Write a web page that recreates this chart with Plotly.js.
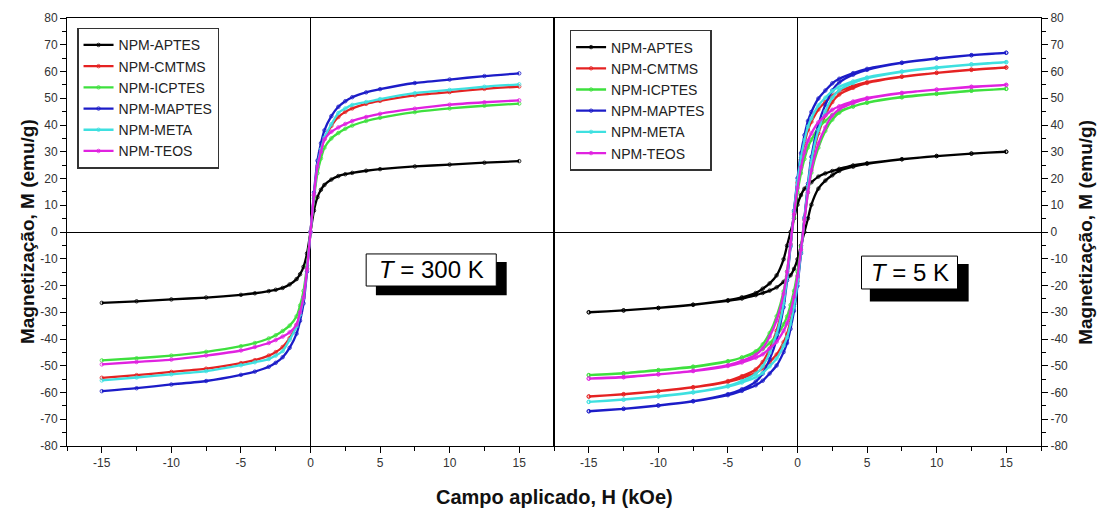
<!DOCTYPE html>
<html>
<head>
<meta charset="utf-8">
<script src="https://cdn.plot.ly/plotly-3.0.1.min.js"></script>
<style>
html,body{margin:0;padding:0;background:#fff;}
#chart{width:1108px;height:520px;}
</style>
</head>
<body>
<div id="chart"></div>
<script>
// ---------- Data ----------
var seriesNames = ["NPM-APTES","NPM-CMTMS","NPM-ICPTES","NPM-MAPTES","NPM-META","NPM-TEOS"];

// T = 300 K : field (kOe)
var H300 = [-15,-12.5,-10,-7.5,-5,-4,-3,-2.5,-2,-1.5,-1,-0.75,-0.5,-0.25,0,0.25,0.5,0.75,1,1.5,2,2.5,3,4,5,7.5,10,12.5,15];
var APTES_300  = [-26.5,-25.9,-25.2,-24.5,-23.5,-22.9,-22.1,-21.6,-20.9,-19.6,-17.6,-15.8,-13.0,-8.0,0,8.0,13.0,15.8,17.6,19.6,20.9,21.6,22.1,22.9,23.5,24.5,25.2,25.9,26.5];
var CMTMS_300  = [-54.5,-53.5,-52.3,-51.1,-49.0,-47.9,-46.2,-44.9,-43.0,-39.7,-34.8,-30.5,-24.5,-13.6,0,13.6,24.5,30.5,34.8,39.7,43.0,44.9,46.2,47.9,49.0,51.1,52.3,53.5,54.4];
var ICPTES_300 = [-48.0,-47.2,-46.2,-44.8,-42.7,-41.5,-39.8,-38.6,-37.0,-35.0,-31.5,-27.5,-22.0,-12.5,0,12.5,22.0,27.5,31.5,35.0,37.0,38.6,39.8,41.5,42.7,44.8,46.2,47.2,48.0];
var MAPTES_300 = [-59.5,-58.4,-57.0,-55.7,-53.4,-52.2,-50.4,-48.9,-46.8,-43.3,-38.0,-33.2,-26.7,-14.8,0,14.8,26.7,33.2,38.0,43.3,46.8,48.9,50.4,52.2,53.4,55.7,57.0,58.3,59.3];
var META_300   = [-55.5,-54.4,-53.2,-52.0,-49.8,-48.7,-47.5,-46.2,-44.5,-40.3,-35.3,-30.9,-24.8,-13.8,0,13.8,24.8,30.9,35.3,40.3,44.5,46.2,47.5,48.6,49.7,51.9,53.1,54.3,55.2];
var TEOS_300   = [-49.5,-48.6,-47.7,-46.2,-44.3,-43.0,-41.5,-40.4,-39.1,-37.5,-34.6,-30.0,-24.5,-14.0,0,14.0,24.5,30.0,34.6,37.5,39.1,40.4,41.5,43.0,44.2,46.1,47.6,48.5,49.2];

// T = 5 K : descending branch (15 -> -15 kOe) and ascending branch (-15 -> 15 kOe)
var H5_down = [15,12.5,10,7.5,5,4,3,2.5,2,1.5,1,0.75,0.5,0.25,0,-0.25,-0.5,-0.75,-1,-1.5,-2,-2.5,-3,-4,-5,-7.5,-10,-12.5,-15];
var H5_up   = [-15,-12.5,-10,-7.5,-5,-4,-3,-2.5,-2,-1.5,-1,-0.75,-0.5,-0.25,0,0.25,0.5,0.75,1,1.5,2,2.5,3,4,5,7.5,10,12.5,15];

var APTES_5_down  = [30.0,29.3,28.4,27.2,25.7,24.9,23.6,22.8,21.9,20.7,18.6,17.4,16.2,13.8,10.2,5.1,0.0,-5.1,-10.2,-16.2,-19.2,-21.2,-22.8,-24.4,-25.5,-27.2,-28.4,-29.3,-30.0];
var APTES_5_up    = [-30.0,-29.3,-28.4,-27.2,-25.7,-24.9,-23.6,-22.8,-21.9,-20.7,-18.6,-17.4,-16.2,-13.8,-10.2,-5.1,0.0,5.1,10.2,16.2,19.2,21.2,22.8,24.4,25.5,27.2,28.4,29.3,30.0];
var CMTMS_5_down  = [61.5,60.7,59.5,58.1,56.0,54.6,52.6,51.0,48.6,45.8,41.2,38.1,33.2,27.1,18.5,7.4,-4.9,-16.6,-25.8,-36.9,-43.7,-48.6,-51.4,-53.9,-55.7,-58.0,-59.5,-60.6,-61.5];
var CMTMS_5_up    = [-61.5,-60.7,-59.5,-58.1,-56.0,-54.6,-52.6,-51.0,-48.6,-45.8,-41.2,-38.1,-33.2,-27.1,-18.5,-7.4,4.9,16.6,25.8,36.9,43.7,48.6,51.4,53.9,55.7,58.0,59.5,60.6,61.5];
var ICPTES_5_down = [53.5,52.8,51.6,50.3,48.3,47.0,45.1,43.8,41.5,38.9,34.5,31.6,27.3,22.0,14.8,5.6,-4.6,-14.7,-22.2,-31.5,-37.8,-42.0,-44.6,-46.9,-48.4,-50.5,-51.7,-52.8,-53.5];
var ICPTES_5_up   = [-53.5,-52.8,-51.6,-50.3,-48.3,-47.0,-45.1,-43.8,-41.5,-38.9,-34.5,-31.6,-27.3,-22.0,-14.8,-5.6,4.6,14.7,22.2,31.5,37.8,42.0,44.6,46.9,48.4,50.5,51.7,52.8,53.5];
var MAPTES_5_down = [67.0,66.1,64.9,63.3,61.0,59.4,57.3,55.6,52.9,49.9,44.9,41.5,36.2,29.5,20.1,8.0,-5.4,-18.1,-28.1,-40.2,-47.6,-52.9,-55.9,-58.8,-60.6,-63.2,-64.8,-66.1,-67.0];
var MAPTES_5_up   = [-67.0,-66.1,-64.9,-63.3,-61.0,-59.4,-57.3,-55.6,-52.9,-49.9,-44.9,-41.5,-36.2,-29.5,-20.1,-8.0,5.4,18.1,28.1,40.2,47.6,52.9,55.9,58.8,60.6,63.2,64.8,66.1,67.0];
var META_5_down   = [63.5,62.7,61.5,60.0,57.8,56.3,54.3,52.7,50.2,47.3,42.5,39.4,34.3,27.9,19.1,7.6,-5.1,-17.1,-26.7,-38.1,-45.1,-50.2,-53.0,-55.7,-57.5,-59.9,-61.4,-62.6,-63.5];
var META_5_up     = [-63.5,-62.7,-61.5,-60.0,-57.8,-56.3,-54.3,-52.7,-50.2,-47.3,-42.5,-39.4,-34.3,-27.9,-19.1,-7.6,5.1,17.1,26.7,38.1,45.1,50.2,53.0,55.7,57.5,59.9,61.4,62.6,63.5];
var TEOS_5_down   = [55.0,54.3,53.2,52.0,50.1,48.8,47.0,45.7,43.5,41.0,36.9,34.1,29.7,24.2,16.5,6.6,-4.4,-14.9,-23.1,-33.0,-39.1,-43.5,-45.9,-48.2,-49.8,-51.9,-53.2,-54.2,-54.8];
var TEOS_5_up     = [-54.8,-54.3,-53.2,-52.0,-50.1,-48.8,-47.0,-45.7,-43.5,-41.0,-36.9,-34.1,-29.7,-24.2,-16.5,-6.6,4.4,14.9,23.1,33.0,39.1,43.5,45.9,48.2,49.8,51.9,53.2,54.2,55.0];

var xTicks = [-15,-10,-5,0,5,10,15];
var yTicks = [-80,-70,-60,-50,-40,-30,-20,-10,0,10,20,30,40,50,60,70,80];

// ---------- Styling ----------
var colors = ["#000000","#e52222","#3ee03e","#1c1cc8","#3ee0e0","#e022e0"];
var data300 = [APTES_300, CMTMS_300, ICPTES_300, MAPTES_300, META_300, TEOS_300];
var down5 = [APTES_5_down, CMTMS_5_down, ICPTES_5_down, MAPTES_5_down, META_5_down, TEOS_5_down];
var up5 = [APTES_5_up, CMTMS_5_up, ICPTES_5_up, MAPTES_5_up, META_5_up, TEOS_5_up];

function styleFor(c) {
  return {
    line: {color: c, width: 2.3, shape: "spline", smoothing: 0.6},
    marker: {symbol: "circle-open", size: 3.5, color: c, line: {width: 0.8, color: c}}
  };
}

var traces = [];
for (var i = 0; i < seriesNames.length; i++) {
  var s = styleFor(colors[i]);
  traces.push({
    type: "scatter", mode: "lines+markers", name: seriesNames[i],
    x: H300, y: data300[i], xaxis: "x", yaxis: "y", legend: "legend",
    line: s.line, marker: s.marker
  });
}
for (var j = 0; j < seriesNames.length; j++) {
  var s2 = styleFor(colors[j]);
  traces.push({
    type: "scatter", mode: "lines+markers", name: seriesNames[j],
    x: H5_down.concat(H5_up), y: down5[j].concat(up5[j]), xaxis: "x2", yaxis: "y2", legend: "legend2",
    line: s2.line, marker: s2.marker
  });
}

var FONT = "Arial, 'Liberation Sans', Helvetica, sans-serif";
function xAxis(domain, anchor) {
  return {
    domain: domain, anchor: anchor, range: [-17.5, 17.5],
    tickmode: "array", tickvals: xTicks, ticktext: xTicks.map(String),
    ticks: "outside", ticklen: 6, tickwidth: 1, tickcolor: "#000",
    minor: {dtick: 2.5, tick0: 0, ticks: "outside", ticklen: 4, tickwidth: 1, tickcolor: "#000"},
    showline: true, linecolor: "#000", linewidth: 1, mirror: true,
    showgrid: false, zeroline: true, zerolinecolor: "#000", zerolinewidth: 1,
    tickfont: {family: FONT, size: 12, color: "#333"}, fixedrange: true
  };
}
function yAxis(anchor, side) {
  return {
    anchor: anchor, side: side, range: [-80, 80],
    tickmode: "array", tickvals: yTicks, ticktext: yTicks.map(String),
    ticks: "outside", ticklen: 6, tickwidth: 1, tickcolor: "#000",
    minor: {dtick: 5, tick0: 0, ticks: "outside", ticklen: 4, tickwidth: 1, tickcolor: "#000"},
    showline: true, linecolor: "#000", linewidth: 1, mirror: true,
    showgrid: false, zeroline: true, zerolinecolor: "#000", zerolinewidth: 1,
    tickfont: {family: FONT, size: 12, color: "#333"}, fixedrange: true
  };
}

var legendStyle = {
  bgcolor: "#ffffff", bordercolor: "#333", borderwidth: 1.5,
  font: {family: FONT, size: 14, color: "#222"},
  xanchor: "left", yanchor: "top", tracegroupgap: 0, itemwidth: 30
};
var legend1 = Object.assign({}, legendStyle, {x: 0.0103, y: 0.977});
var legend2 = Object.assign({}, legendStyle, {x: 0.516, y: 0.972});

var layout = {
  width: 1108, height: 520,
  margin: {l: 67, r: 67, t: 18, b: 74},
  paper_bgcolor: "#fff", plot_bgcolor: "#fff",
  showlegend: true,
  legend: legend1, legend2: legend2,
  xaxis: xAxis([0, 0.5], "y"),
  yaxis: yAxis("x", "left"),
  xaxis2: xAxis([0.5, 1], "y2"),
  yaxis2: yAxis("x2", "right"),
  shapes: [
    {type: "rect", xref: "x", yref: "y", x0: 4.7, x1: 14.1, y0: -11.2, y1: -23.6, fillcolor: "#000", line: {width: 0}, layer: "above"},
    {type: "rect", xref: "x", yref: "y", x0: 4.0, x1: 13.35, y0: -8.2, y1: -20.2, fillcolor: "#fff", line: {color: "#000", width: 1}, layer: "above"},
    {type: "rect", xref: "x2", yref: "y2", x0: 5.2, x1: 12.3, y0: -12.0, y1: -26.0, fillcolor: "#000", line: {width: 0}, layer: "above"},
    {type: "rect", xref: "x2", yref: "y2", x0: 4.6, x1: 11.5, y0: -9.0, y1: -21.3, fillcolor: "#fff", line: {color: "#000", width: 1}, layer: "above"}
  ],
  annotations: [
    {xref: "x", yref: "y", x: 8.67, y: -14.2, text: "<i>T</i> = 300 K", showarrow: false,
     font: {family: FONT, size: 24, color: "#000"}, xanchor: "center", yanchor: "middle"},
    {xref: "x2", yref: "y2", x: 8.05, y: -15.1, text: "<i>T</i> = 5 K", showarrow: false,
     font: {family: FONT, size: 24, color: "#000"}, xanchor: "center", yanchor: "middle"},
    {xref: "paper", yref: "paper", x: 0.5, y: -0.119, text: "<b>Campo aplicado, H (kOe)</b>", showarrow: false,
     font: {family: FONT, size: 20, color: "#111"}, xanchor: "center", yanchor: "middle"},
    {xref: "paper", yref: "paper", x: -0.041, y: 0.5, text: "<b>Magnetização, M (emu/g)</b>", showarrow: false, textangle: -90,
     font: {family: FONT, size: 19, color: "#111"}, xanchor: "center", yanchor: "middle"},
    {xref: "paper", yref: "paper", x: 1.045, y: 0.5, text: "<b>Magnetização, M (emu/g)</b>", showarrow: false, textangle: -90,
     font: {family: FONT, size: 19, color: "#111"}, xanchor: "center", yanchor: "middle"}
  ]
};

Plotly.newPlot("chart", traces, layout, {displayModeBar: false, staticPlot: true});
</script>
</body>
</html>
